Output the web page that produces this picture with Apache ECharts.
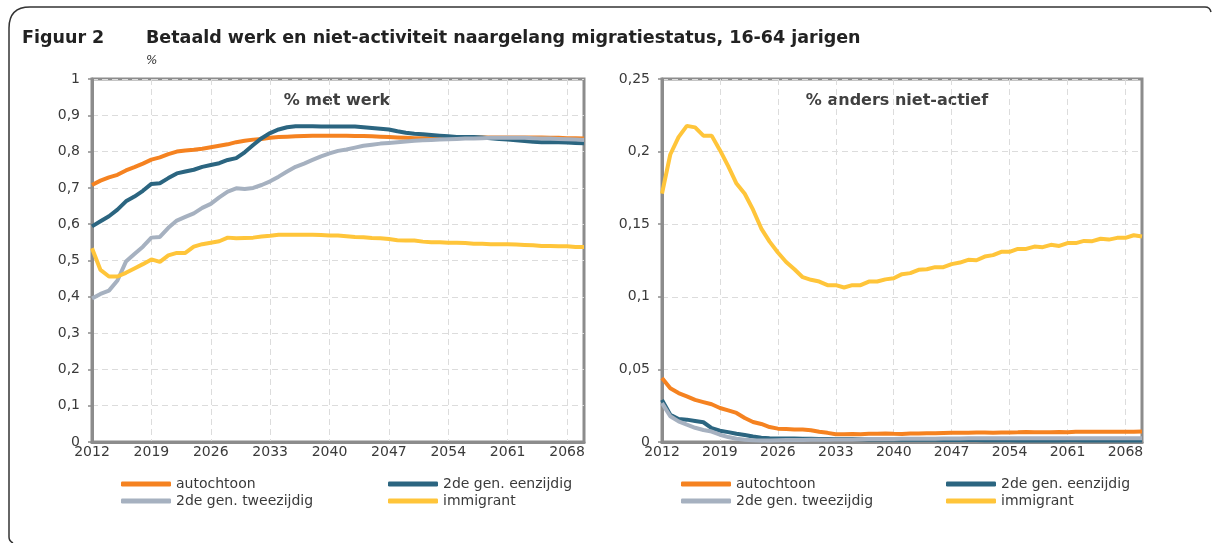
<!DOCTYPE html>
<html>
<head>
<meta charset="utf-8">
<script src="https://cdn.jsdelivr.net/npm/echarts@6/dist/echarts.min.js"></script>
<style>
  html, body { margin: 0; padding: 0; background: #fff; }
  #chart { width: 1214px; height: 543px; }
</style>
</head>
<body>
<div id="chart"></div>
<script>
// years 2012 .. 2070
const years = [];
for (let y = 2012; y <= 2070; y++) years.push(String(y));

const seriesNames = ['autochtoon', '2de gen. eenzijdig', '2de gen. tweezijdig', 'immigrant'];
const colors = ['#F58220', '#2B6580', '#A6B1C0', '#FFC53A'];

// % met werk
const werkAutochtoon = [
  0.708, 0.720, 0.729, 0.736, 0.748, 0.757, 0.767, 0.778, 0.784, 0.793,
  0.800, 0.803, 0.805, 0.808, 0.812, 0.816, 0.820, 0.826, 0.830, 0.833,
  0.835, 0.838, 0.840, 0.841, 0.842, 0.843, 0.844, 0.844, 0.844, 0.844,
  0.844, 0.843, 0.843, 0.842, 0.841, 0.840, 0.839, 0.838, 0.837, 0.837,
  0.837, 0.837, 0.838, 0.838, 0.839, 0.839, 0.839, 0.839, 0.839, 0.839,
  0.839, 0.839, 0.839, 0.839, 0.838, 0.838, 0.837, 0.837, 0.836
];
const werkEenzijdig = [
  0.594, 0.608, 0.622, 0.640, 0.663, 0.676, 0.692, 0.711, 0.713, 0.727,
  0.740, 0.745, 0.750, 0.758, 0.763, 0.768, 0.777, 0.782, 0.798, 0.818,
  0.837, 0.851, 0.861, 0.867, 0.870, 0.870, 0.870, 0.869, 0.869, 0.869,
  0.869, 0.869, 0.867, 0.865, 0.863, 0.861, 0.856, 0.852, 0.849, 0.848,
  0.846, 0.844, 0.842, 0.840, 0.840, 0.840, 0.839, 0.837, 0.835, 0.833,
  0.831, 0.829, 0.827, 0.826, 0.826, 0.826, 0.825, 0.824, 0.823
];
const werkTweezijdig = [
  0.395, 0.408, 0.417, 0.445, 0.497, 0.518, 0.538, 0.563, 0.565, 0.590,
  0.610, 0.620, 0.630, 0.645, 0.656, 0.674, 0.690, 0.699, 0.697, 0.700,
  0.708, 0.718, 0.731, 0.745, 0.758, 0.767, 0.777, 0.787, 0.795, 0.802,
  0.806, 0.811, 0.816, 0.819, 0.822, 0.824, 0.826, 0.828, 0.830, 0.831,
  0.832, 0.833, 0.834, 0.835, 0.836, 0.836, 0.837, 0.838, 0.838, 0.838,
  0.838, 0.838, 0.837, 0.836, 0.836, 0.835, 0.834, 0.833, 0.832
];
const werkImmigrant = [
  0.534, 0.474, 0.456, 0.456, 0.466, 0.478, 0.490, 0.503, 0.496, 0.514,
  0.521, 0.521, 0.538, 0.545, 0.549, 0.553, 0.563, 0.561, 0.562, 0.563,
  0.566, 0.568, 0.571, 0.571, 0.571, 0.571, 0.571, 0.570, 0.569, 0.569,
  0.567, 0.565, 0.564, 0.562, 0.561, 0.559, 0.556, 0.555, 0.555, 0.552,
  0.550, 0.550, 0.549, 0.549, 0.548, 0.546, 0.546, 0.545, 0.545, 0.545,
  0.544, 0.543, 0.542, 0.540, 0.540, 0.539, 0.539, 0.537, 0.537
];

// % anders niet-actief
const nietAutochtoon = [
  0.0440, 0.0370, 0.0337, 0.0314, 0.0290, 0.0275, 0.0260, 0.0234, 0.0218, 0.0200,
  0.0165, 0.0138, 0.0124, 0.0103, 0.0092, 0.0089, 0.0086, 0.0086, 0.0081, 0.0071,
  0.0063, 0.0054, 0.0053, 0.0055, 0.0054, 0.0057, 0.0056, 0.0058, 0.0056, 0.0055,
  0.0058, 0.0058, 0.0060, 0.0060, 0.0062, 0.0063, 0.0063, 0.0064, 0.0065, 0.0065,
  0.0064, 0.0065, 0.0066, 0.0067, 0.0069, 0.0067, 0.0068, 0.0068, 0.0069, 0.0068,
  0.0070, 0.0071, 0.0071, 0.0070, 0.0071, 0.0071, 0.0071, 0.0070, 0.0072
];
const nietEenzijdig = [
  0.0290, 0.0188, 0.0158, 0.0154, 0.0145, 0.0136, 0.0096, 0.0078, 0.0068, 0.0057,
  0.0048, 0.0038, 0.0030, 0.0026, 0.0024, 0.0024, 0.0024, 0.0023, 0.0022, 0.0021,
  0.0021, 0.0020, 0.0020, 0.0020, 0.0019, 0.0018, 0.0018, 0.0018, 0.0017, 0.0016,
  0.0016, 0.0015, 0.0015, 0.0015, 0.0014, 0.0014, 0.0013, 0.0013, 0.0013, 0.0012,
  0.0012, 0.0012, 0.0012, 0.0011, 0.0011, 0.0011, 0.0011, 0.0011, 0.0011, 0.0012,
  0.0012, 0.0011, 0.0011, 0.0011, 0.0011, 0.0011, 0.0011, 0.0011, 0.0011
];
const nietTweezijdig = [
  0.0268, 0.0177, 0.0142, 0.0119, 0.0098, 0.0083, 0.0072, 0.0050, 0.0034, 0.0022,
  0.0015, 0.0012, 0.0011, 0.0011, 0.0012, 0.0013, 0.0014, 0.0014, 0.0015, 0.0016,
  0.0016, 0.0017, 0.0018, 0.0018, 0.0019, 0.0020, 0.0020, 0.0021, 0.0021, 0.0022,
  0.0022, 0.0022, 0.0023, 0.0023, 0.0024, 0.0024, 0.0024, 0.0025, 0.0025, 0.0025,
  0.0025, 0.0025, 0.0025, 0.0026, 0.0026, 0.0026, 0.0026, 0.0026, 0.0026, 0.0026,
  0.0026, 0.0026, 0.0026, 0.0026, 0.0026, 0.0026, 0.0026, 0.0026, 0.0026
];
const nietImmigrant = [
  0.1710, 0.1980, 0.2100, 0.2177, 0.2167, 0.2110, 0.2110, 0.2010, 0.1900, 0.1780,
  0.1710, 0.1600, 0.1470, 0.1380, 0.1305, 0.1240, 0.1190, 0.1135, 0.1117, 0.1105,
  0.1080, 0.1080, 0.1064, 0.1080, 0.1080, 0.1105, 0.1105, 0.1120, 0.1128, 0.1156,
  0.1163, 0.1186, 0.1190, 0.1204, 0.1204, 0.1225, 0.1236, 0.1255, 0.1252, 0.1277,
  0.1287, 0.1310, 0.1310, 0.1330, 0.1330, 0.1346, 0.1342, 0.1358, 0.1350, 0.1370,
  0.1370, 0.1385, 0.1383, 0.1400, 0.1394, 0.1406, 0.1406, 0.1424, 0.1415
];

const leftYMax = 1, leftYStep = 0.1;
const rightYMax = 0.25, rightYStep = 0.05;

const font = 'DejaVu Sans';
const axisGray = '#8c8c8c';
const textColor = '#3a3a3a';

const chart = echarts.init(document.getElementById('chart'));

const fmt = v => String(+v.toFixed(3)).replace('.', ',');

function xAxisFor(gridIndex) {
  return {
    type: 'category',
    gridIndex: gridIndex,
    data: years,
    boundaryGap: false,
    axisLine: { lineStyle: { color: axisGray, width: 3 } },
    axisTick: { show: false },
    axisLabel: { interval: 6, color: textColor, fontFamily: font, fontSize: 14, margin: 3 },
    splitLine: { show: true, interval: 6, lineStyle: { color: '#dcdcdc', type: [6, 4], width: 1 } }
  };
}

function yAxisFor(gridIndex, max, step) {
  return {
    type: 'value',
    gridIndex: gridIndex,
    min: 0,
    max: max,
    interval: step,
    axisLine: { show: true, lineStyle: { color: axisGray, width: 3 } },
    axisTick: { show: true, length: 4, lineStyle: { color: axisGray, width: 1.5 } },
    axisLabel: { color: textColor, fontFamily: font, fontSize: 14, margin: 12, formatter: fmt },
    splitLine: { show: true, lineStyle: { color: '#dcdcdc', type: [6, 4], width: 1 } }
  };
}

function lineSeries(name, data, idx) {
  const c = colors[seriesNames.indexOf(name)];
  return {
    name: name,
    type: 'line',
    xAxisIndex: idx,
    yAxisIndex: idx,
    data: data,
    showSymbol: false,
    symbol: 'none',
    lineStyle: { width: 4, color: c },
    itemStyle: { color: c },
    z: 3
  };
}

function legendItem(name, left, top) {
  return {
    data: [name],
    left: left,
    top: top,
    padding: 0,
    icon: 'roundRect',
    itemWidth: 50,
    itemHeight: 5,
    itemGap: 0,
    textStyle: { color: textColor, fontFamily: font, fontSize: 14 }
  };
}

const border = { stroke: '#333', lineWidth: 1.5, fill: null };

const option = {
  animation: false,
  textStyle: { fontFamily: font },
  grid: [
    { left: 92, top: 79, width: 492, height: 363, show: true, borderColor: axisGray, borderWidth: 3 },
    { left: 662, top: 79, width: 480, height: 363, show: true, borderColor: axisGray, borderWidth: 3 }
  ],
  xAxis: [xAxisFor(0), xAxisFor(1)],
  yAxis: [yAxisFor(0, leftYMax, leftYStep), yAxisFor(1, rightYMax, rightYStep)],
  legend: [
    legendItem(seriesNames[0], 121, 477),
    legendItem(seriesNames[1], 388, 477),
    legendItem(seriesNames[2], 121, 494),
    legendItem(seriesNames[3], 388, 494),
    legendItem(seriesNames[0], 681, 477),
    legendItem(seriesNames[1], 946, 477),
    legendItem(seriesNames[2], 681, 494),
    legendItem(seriesNames[3], 946, 494)
  ],
  series: [
    lineSeries(seriesNames[0], werkAutochtoon, 0),
    lineSeries(seriesNames[1], werkEenzijdig, 0),
    lineSeries(seriesNames[2], werkTweezijdig, 0),
    lineSeries(seriesNames[3], werkImmigrant, 0),
    lineSeries(seriesNames[0], nietAutochtoon, 1),
    lineSeries(seriesNames[1], nietEenzijdig, 1),
    lineSeries(seriesNames[2], nietTweezijdig, 1),
    lineSeries(seriesNames[3], nietImmigrant, 1)
  ],
  graphic: [
    // frame: left side and top with rounded top-left corner
    { type: 'line', shape: { x1: 9, y1: 28, x2: 9, y2: 537 }, style: border },
    { type: 'line', shape: { x1: 30, y1: 7, x2: 1205, y2: 7 }, style: border },
    { type: 'bezierCurve', shape: { x1: 9, y1: 28, cpx1: 9, cpy1: 7, x2: 30, y2: 7 }, style: border },
    { type: 'bezierCurve', shape: { x1: 1205, y1: 7, cpx1: 1210, cpy1: 7, x2: 1211, y2: 12 }, style: border },
    { type: 'bezierCurve', shape: { x1: 9, y1: 537, cpx1: 9, cpy1: 541, x2: 13, y2: 543 }, style: border },
    {
      type: 'text', x: 22, y: 38,
      style: { text: 'Figuur 2', font: 'bold 17.5px "DejaVu Sans"', fill: '#222', textVerticalAlign: 'middle' }
    },
    {
      type: 'text', x: 146, y: 38,
      style: { text: 'Betaald werk en niet-activiteit naargelang migratiestatus, 16-64 jarigen', font: 'bold 17.5px "DejaVu Sans"', fill: '#222', textVerticalAlign: 'middle' }
    },
    {
      type: 'text', x: 146, y: 61,
      style: { text: '%', font: 'italic 12px "DejaVu Sans"', fill: '#333', textVerticalAlign: 'middle' }
    },
    {
      type: 'text', x: 337, y: 101,
      style: { text: '% met werk', font: 'bold 16px "DejaVu Sans"', fill: '#404040', textAlign: 'center', textVerticalAlign: 'middle' }
    },
    {
      type: 'text', x: 897, y: 101,
      style: { text: '% anders niet-actief', font: 'bold 16px "DejaVu Sans"', fill: '#404040', textAlign: 'center', textVerticalAlign: 'middle' }
    }
  ]
};

chart.setOption(option);
</script>
</body>
</html>
